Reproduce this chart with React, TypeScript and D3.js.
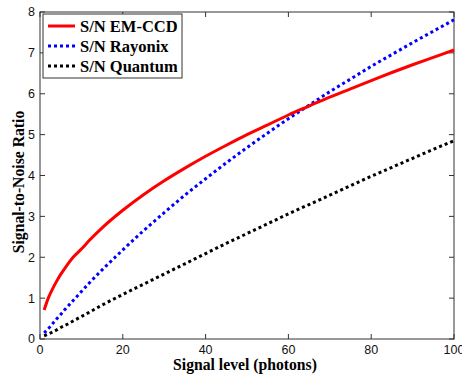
import React, { useEffect, useRef } from "react";
import * as d3 from "d3";

// signal level in photons
const signal = [1, 2, 3, 4, 5, 6, 8, 10, 12, 15, 20, 25, 30, 35, 40, 45, 50, 55, 60, 65, 70, 75, 80, 85, 90, 95, 100];
const emccd = [0.71, 1.0, 1.22, 1.41, 1.58, 1.73, 2.0, 2.2, 2.42, 2.72, 3.15, 3.53, 3.87, 4.18, 4.47, 4.74, 5.0, 5.24, 5.48, 5.7, 5.92, 6.12, 6.32, 6.52, 6.71, 6.89, 7.07];
const rayonix = [0.15, 0.25, 0.37, 0.49, 0.6, 0.72, 0.94, 1.16, 1.38, 1.69, 2.18, 2.65, 3.09, 3.52, 3.92, 4.31, 4.68, 5.04, 5.39, 5.72, 6.05, 6.36, 6.67, 6.96, 7.25, 7.53, 7.81];
const quantum = [0.08, 0.12, 0.17, 0.22, 0.28, 0.33, 0.44, 0.55, 0.66, 0.83, 1.09, 1.34, 1.59, 1.84, 2.09, 2.34, 2.58, 2.82, 3.06, 3.29, 3.52, 3.75, 3.98, 4.2, 4.42, 4.64, 4.85];

const xTicks = [0, 20, 40, 60, 80, 100];
const yTicks = [0, 1, 2, 3, 4, 5, 6, 7, 8];

const seriesNames = ["S/N EM-CCD", "S/N Rayonix", "S/N Quantum"];

const App = () => {
  const svgRef = useRef<SVGSVGElement>(null);

  useEffect(() => {
    const width = 462;
    const height = 378;
    const margin = { top: 12, right: 8, bottom: 39, left: 40 };

    const svg = d3.select(svgRef.current);
    svg.selectAll("*").remove();
    svg.attr("width", width).attr("height", height);

    svg.append("rect").attr("width", width).attr("height", height).attr("fill", "#fff");

    const x = d3.scaleLinear().domain([0, 100]).range([margin.left, width - margin.right]);
    const y = d3.scaleLinear().domain([0, 8]).range([height - margin.bottom, margin.top]);

    const x0 = x(0), x1 = x(100), y0 = y(0), y1 = y(8);
    const axisColor = "#333";
    const tickFont = "'Liberation Sans', Arial, sans-serif";
    const labelFont = "'Liberation Serif', 'Times New Roman', serif";

    // frame
    svg
      .append("rect")
      .attr("x", x0)
      .attr("y", y1)
      .attr("width", x1 - x0)
      .attr("height", y0 - y1)
      .attr("fill", "none")
      .attr("stroke", axisColor)
      .attr("stroke-width", 1);

    // ticks, inward on all four sides
    const tl = 5;
    xTicks.forEach((t) => {
      svg.append("line").attr("x1", x(t)).attr("x2", x(t)).attr("y1", y0).attr("y2", y0 - tl).attr("stroke", axisColor);
      svg.append("line").attr("x1", x(t)).attr("x2", x(t)).attr("y1", y1).attr("y2", y1 + tl).attr("stroke", axisColor);
      svg
        .append("text")
        .attr("x", x(t))
        .attr("y", y0 + 15)
        .attr("text-anchor", "middle")
        .style("font-family", tickFont)
        .style("font-size", "12.5px")
        .style("fill", "#111")
        .text(t);
    });
    yTicks.forEach((t) => {
      svg.append("line").attr("x1", x0).attr("x2", x0 + tl).attr("y1", y(t)).attr("y2", y(t)).attr("stroke", axisColor);
      svg.append("line").attr("x1", x1).attr("x2", x1 - tl).attr("y1", y(t)).attr("y2", y(t)).attr("stroke", axisColor);
      svg
        .append("text")
        .attr("x", x0 - 5)
        .attr("y", y(t))
        .attr("dy", "0.35em")
        .attr("text-anchor", "end")
        .style("font-family", tickFont)
        .style("font-size", "12.5px")
        .style("fill", "#111")
        .text(t);
    });

    // axis labels
    svg
      .append("text")
      .attr("x", 245)
      .attr("y", y0 + 31)
      .attr("text-anchor", "middle")
      .style("font-family", labelFont)
      .style("font-weight", "bold")
      .style("font-size", "15.7px")
      .text("Signal level (photons)");

    svg
      .append("text")
      .attr("transform", `translate(24, 182) rotate(-90)`)
      .attr("text-anchor", "middle")
      .style("font-family", labelFont)
      .style("font-weight", "bold")
      .style("font-size", "15.7px")
      .text("Signal-to-Noise Ratio");

    // curves
    const styles = [
      { data: emccd, color: "#ff0000", dash: null },
      { data: rayonix, color: "#0000ff", dash: "3,3" },
      { data: quantum, color: "#000000", dash: "3,3" },
    ];

    const line = d3
      .line<[number, number]>()
      .x((d) => x(d[0]))
      .y((d) => y(d[1]))
      .curve(d3.curveMonotoneX);

    const plot = svg.append("g");
    styles.slice().reverse().forEach((s) => {
      plot
        .append("path")
        .attr("d", line(signal.map((v, i) => [v, s.data[i]] as [number, number])))
        .attr("fill", "none")
        .attr("stroke", s.color)
        .attr("stroke-width", 3)
        .attr("stroke-dasharray", s.dash);
    });

    // legend
    const legend = svg.append("g").attr("transform", `translate(${x0 + 3}, ${y1 + 2})`);
    legend
      .append("rect")
      .attr("width", 139)
      .attr("height", 64)
      .attr("fill", "#fff")
      .attr("stroke", axisColor)
      .attr("stroke-width", 1);

    seriesNames.forEach((name, i) => {
      const row = legend.append("g").attr("transform", `translate(0, ${12 + i * 20})`);
      row
        .append("line")
        .attr("x1", 5)
        .attr("x2", 32)
        .attr("y1", 0)
        .attr("y2", 0)
        .attr("stroke", styles[i].color)
        .attr("stroke-width", 3)
        .attr("stroke-dasharray", styles[i].dash);
      row
        .append("text")
        .attr("x", 37)
        .attr("y", 0)
        .attr("dy", "0.35em")
        .style("font-family", labelFont)
        .style("font-weight", "bold")
        .style("font-size", "16.5px")
        .text(name);
    });
  }, []);

  return (
    <div style={{ position: "absolute", left: 0, top: 0 }}>
      <svg ref={svgRef} style={{ display: "block" }}></svg>
    </div>
  );
};

export default App;
